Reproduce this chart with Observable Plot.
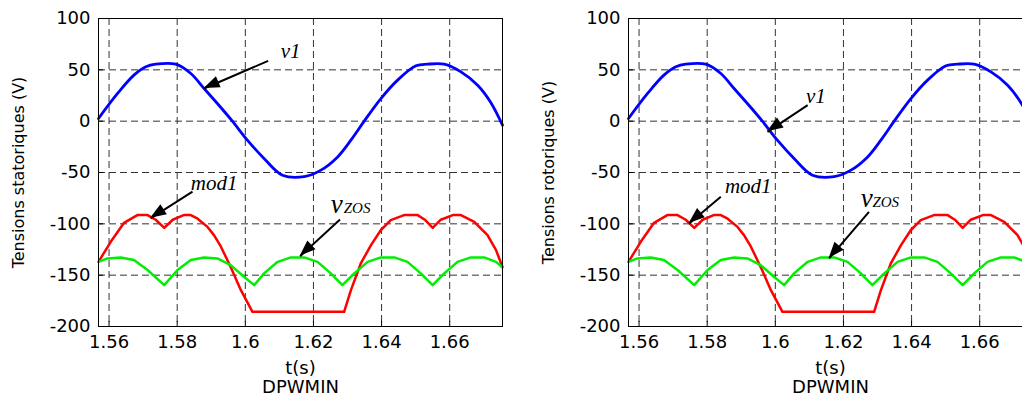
<!DOCTYPE html>
<html><head><meta charset="utf-8">
<script src="https://cdn.jsdelivr.net/npm/d3@7"></script>
<script src="https://cdn.jsdelivr.net/npm/@observablehq/plot@0.6"></script>
<style>
body{margin:0;background:#fff}
#wrap{position:relative;width:1022px;height:396px;overflow:hidden;background:#fff}
#wrap > svg{position:absolute;top:0}
</style></head><body><div id="wrap"></div>
<script>
// ---- data (time in s, voltage in V) ----
const v1T = [1.5569,1.5625,1.5673,1.5708,1.5737,1.5796,1.5840,1.5879,1.5918,1.5962,1.6006,1.6055,1.6109,1.6173,1.6222,1.6271,1.6310,1.6349,1.6398,1.6447,1.6501,1.6535,1.6584,1.6633,1.6682,1.6721,1.6755];
const v1V = [2.6,27,44.8,52.9,55.5,55.5,46.4,31.8,17.2,0,-18.5,-36.3,-52.6,-54,-47.7,-34.8,-18.5,0,22,40,53.9,55.5,55.5,48,35,18,-3.9];

const mod1T = [1.5569,1.5605,1.5644,1.5683,1.5713,1.5737,1.5762,1.5787,1.5819,1.5840,1.5860,1.5889,1.5908,1.5928,1.5957,1.5987,1.6021,1.6290,1.6310,1.6339,1.6369,1.6398,1.6427,1.6466,1.6506,1.6527,1.6550,1.6574,1.6609,1.6633,1.6672,1.6711,1.6736,1.6755];
const mod1V = [-137,-117.5,-99,-91.5,-91.5,-96,-103.9,-96,-91.5,-91.5,-95,-103,-111,-122,-142,-164.6,-185.7,-185.7,-164.6,-138.6,-120.7,-106,-96.4,-91.5,-91.5,-96,-103.9,-96,-91.5,-91.5,-98,-111,-125.6,-142];

const vzosT = [1.5569,1.5595,1.5634,1.5673,1.5713,1.5762,1.5801,1.5840,1.5879,1.5918,1.5957,1.5996,1.6026,1.6055,1.6095,1.6134,1.6173,1.6212,1.6251,1.6285,1.6320,1.6359,1.6398,1.6437,1.6476,1.6515,1.6550,1.6584,1.6623,1.6662,1.6701,1.6736,1.6755];
const vzosV = [-137,-133.7,-132.7,-135.3,-145,-159.7,-145,-135.3,-132.7,-133.7,-140.2,-151.6,-159.7,-148.3,-137,-132.7,-132.7,-137,-148.3,-159.7,-148.3,-137,-132.7,-132.7,-137,-148.3,-159.7,-148.3,-137,-132.7,-132.7,-137,-142.5];

const xTicks = [1.56, 1.58, 1.6, 1.62, 1.64, 1.66];
const yTicks = [-200, -150, -100, -50, 0, 50, 100];
const xDomain = [1.5569, 1.6755];
const yDomain = [-200, 100];
const yLabels = ["Tensions statoriques (V)", "Tensions rotoriques (V)"];
const xLabel = "t(s)";
const modeLabel = "DPWMIN";

// annotation labels (left baseline start) and arrows (tail -> tip), per panel
const labelsLeft  = [{text:"v1", t:1.6104, v:61.3}, {text:"mod1", t:1.5840, v:-67.2}];
const labelsRight = [{text:"v1", t:1.6090, v:17.5}, {text:"mod1", t:1.5852, v:-70.1}];
const vzosLabelLeft  = [{v:"v", zos:"ZOS", t1:1.6251, t2:1.6289, y:-89.6}];
const vzosLabelRight = [{v:"v", zos:"ZOS", t1:1.6251, t2:1.6285, y:-83.7}];
const arrowsLeft = [
  {t1:1.6067, v1:58.7,  t2:1.5879, v2:31.8},
  {t1:1.5845, v1:-68.6, t2:1.5722, v2:-94.6},
  {t1:1.6278, v1:-95.7, t2:1.6161, v2:-131.5}];
const arrowsRight = [
  {t1:1.6095, v1:15.6,  t2:1.5977, v2:-10.4},
  {t1:1.5840, v1:-73.7, t2:1.5747, v2:-99.6},
  {t1:1.6275, v1:-88.3, t2:1.6158, v2:-133.7}];

const rows = (T, V) => T.slice(0, Math.min(T.length, V.length)).map((t, i) => ({t, v: V[i]}));
const v1Rows = rows(v1T, v1V), mod1Rows = rows(mod1T, mod1V), vzosRows = rows(vzosT, vzosV);

const serif = "Liberation Serif, Times New Roman, serif";

function panel(yLabel, labels, vzosLab, arrows) {
  const plot = Plot.plot({
    width: 520, height: 396,
    marginLeft: 98, marginRight: 18, marginTop: 18, marginBottom: 70,
    style: {fontFamily: "DejaVu Sans, sans-serif", fontSize: "18px", color: "black", background: "white", overflow: "visible"},
    x: {domain: xDomain},
    y: {domain: yDomain},
    marks: [
      Plot.gridX(xTicks, {stroke: "#333", strokeOpacity: 1, strokeWidth: 1, strokeDasharray: "7,4"}),
      Plot.gridY(yTicks, {stroke: "#333", strokeOpacity: 1, strokeWidth: 1, strokeDasharray: "7,4"}),
      Plot.ruleX(xTicks, {y1: yDomain[0], y2: yDomain[0] + 5, stroke: "black"}),
      Plot.ruleY(yTicks, {x1: xDomain[0], x2: xDomain[0] + 0.0015, stroke: "black"}),
      Plot.axisX(xTicks, {tickSize: 0, tickPadding: 9, label: null, tickFormat: d => String(d), fontSize: 18}),
      Plot.axisY(yTicks, {tickSize: 0, tickPadding: 8, label: null, tickFormat: d => String(d), fontSize: 18}),
      Plot.line(v1Rows, {x: "t", y: "v", stroke: "#0000ff", strokeWidth: 2.8, curve: "catmull-rom"}),
      Plot.line(mod1Rows, {x: "t", y: "v", stroke: "#ff0000", strokeWidth: 2.5}),
      Plot.line(vzosRows, {x: "t", y: "v", stroke: "#00ee00", strokeWidth: 2.5}),
      Plot.frame({stroke: "black", strokeWidth: 1}),
      Plot.link(arrows, {x1: "t1", y1: "v1", x2: "t2", y2: "v2", stroke: "black", strokeWidth: 2}),
      Plot.text(labels, {x: "t", y: "v", text: "text", textAnchor: "start", lineAnchor: "bottom", fontFamily: serif, fontStyle: "italic", fontSize: 21}),
      Plot.text(vzosLab, {x: "t1", y: "y", text: "v", textAnchor: "start", lineAnchor: "bottom", fontFamily: serif, fontStyle: "italic", fontSize: 27}),
      Plot.text(vzosLab, {x: "t2", y: "y", text: "zos", textAnchor: "start", lineAnchor: "bottom", fontFamily: serif, fontStyle: "italic", fontSize: 15}),
      Plot.text([yLabel], {text: d => d, frameAnchor: "left", textAnchor: "middle", lineAnchor: "middle", rotate: -90, dx: -80, fontSize: 16}),
      Plot.text([xLabel], {text: d => d, frameAnchor: "bottom", textAnchor: "middle", lineAnchor: "bottom", dy: 47, fontSize: 18}),
      Plot.text([modeLabel], {text: d => d, frameAnchor: "bottom", textAnchor: "middle", lineAnchor: "bottom", dy: 66, fontSize: 18})
    ]
  });
  // filled arrow heads positioned through the plot's own scales
  const sx = plot.scale("x"), sy = plot.scale("y");
  arrows.forEach(a => {
    const x1 = sx.apply(a.t1), y1 = sy.apply(a.v1), x2 = sx.apply(a.t2), y2 = sy.apply(a.v2);
    const ang = Math.atan2(y2 - y1, x2 - x1);
    const L = 16, W = 6;
    const bx = x2 - L * Math.cos(ang), by = y2 - L * Math.sin(ang);
    const px = -Math.sin(ang) * W, py = Math.cos(ang) * W;
    d3.select(plot).append("path")
      .attr("d", `M${x2},${y2}L${bx + px},${by + py}L${bx - px},${by - py}Z`)
      .attr("fill", "black");
  });
  return plot;
}

const wrap = document.getElementById("wrap");
const p1 = panel(yLabels[0], labelsLeft, vzosLabelLeft, arrowsLeft);
p1.style.left = "0px";
wrap.appendChild(p1);
const p2 = panel(yLabels[1], labelsRight, vzosLabelRight, arrowsRight);
p2.style.left = "530px";
wrap.appendChild(p2);
</script></body></html>
